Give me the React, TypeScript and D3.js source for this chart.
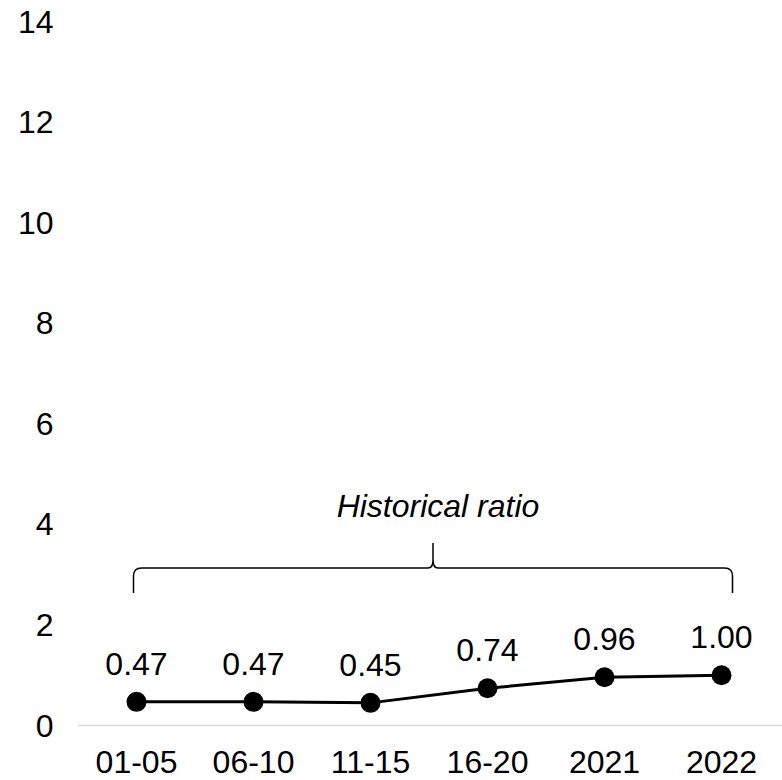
import React from "react";
import * as d3 from "d3";

const categories = ["01-05", "06-10", "11-15", "16-20", "2021", "2022"];
const values = [0.47, 0.47, 0.45, 0.74, 0.96, 1.0];
const valueLabels = ["0.47", "0.47", "0.45", "0.74", "0.96", "1.00"];
const yTicks = [0, 2, 4, 6, 8, 10, 12, 14];
const annotation = "Historical ratio";

const W = 782;
const H = 780;
const FONT = "Arial, 'Liberation Sans', sans-serif";
const FS = 32;

export default function App() {
  const x = d3.scaleBand<string>().domain(categories).range([78, 780]).padding(0);
  const y = d3.scaleLinear().domain([0, 14]).range([725.5, 21.5]);
  const cx = (c: string) => (x(c) as number) + x.bandwidth() / 2;

  const line = d3
    .line<number>()
    .x((_, i) => cx(categories[i]))
    .y((d) => y(d));

  // brace geometry derived from scale
  const bx0 = cx(categories[0]) - 3;
  const bx1 = cx(categories[categories.length - 1]) + 11;
  const bm = (bx0 + bx1) / 2;
  const byBottom = 593;
  const byLine = 568;
  const byTop = 543;
  const r = 8;
  const brace = [
    `M${bx0},${byBottom}`,
    `L${bx0},${byLine + r}`,
    `Q${bx0},${byLine} ${bx0 + r},${byLine}`,
    `L${bm - 5},${byLine}`,
    `Q${bm},${byLine} ${bm},${byLine - 8}`,
    `L${bm},${byTop}`,
    `M${bm},${byLine - 8}`,
    `Q${bm},${byLine} ${bm + 5},${byLine}`,
    `L${bx1 - r},${byLine}`,
    `Q${bx1},${byLine} ${bx1},${byLine + r}`,
    `L${bx1},${byBottom}`,
  ].join(" ");

  return (
    <svg
      width={W}
      height={H}
      style={{ position: "absolute", left: 0, top: 0, background: "#fff" }}
      fontFamily={FONT}
    >
      {yTicks.map((t) => (
        <text
          key={t}
          x={53.5}
          y={y(t)}
          textAnchor="end"
          dominantBaseline="central"
          fontSize={FS}
          fill="#000"
        >
          {t}
        </text>
      ))}
      <line x1={78} x2={782} y1={y(0)} y2={y(0)} stroke="#d9d9d9" strokeWidth={1.5} />
      {categories.map((c) => (
        <text key={c} x={cx(c)} y={773} textAnchor="middle" fontSize={FS} fill="#000">
          {c}
        </text>
      ))}
      <path d={line(values) || ""} fill="none" stroke="#000" strokeWidth={3} />
      {values.map((v, i) => (
        <circle key={i} cx={cx(categories[i])} cy={y(v)} r={10} fill="#000" />
      ))}
      {values.map((v, i) => (
        <text
          key={"l" + i}
          x={cx(categories[i])}
          y={y(v) - 27}
          textAnchor="middle"
          fontSize={FS}
          fill="#000"
        >
          {valueLabels[i]}
        </text>
      ))}
      <path d={brace} fill="none" stroke="#000" strokeWidth={1.5} />
      <text x={bm + 5} y={517} textAnchor="middle" fontSize={FS} fontStyle="italic" fill="#000">
        {annotation}
      </text>
    </svg>
  );
}
